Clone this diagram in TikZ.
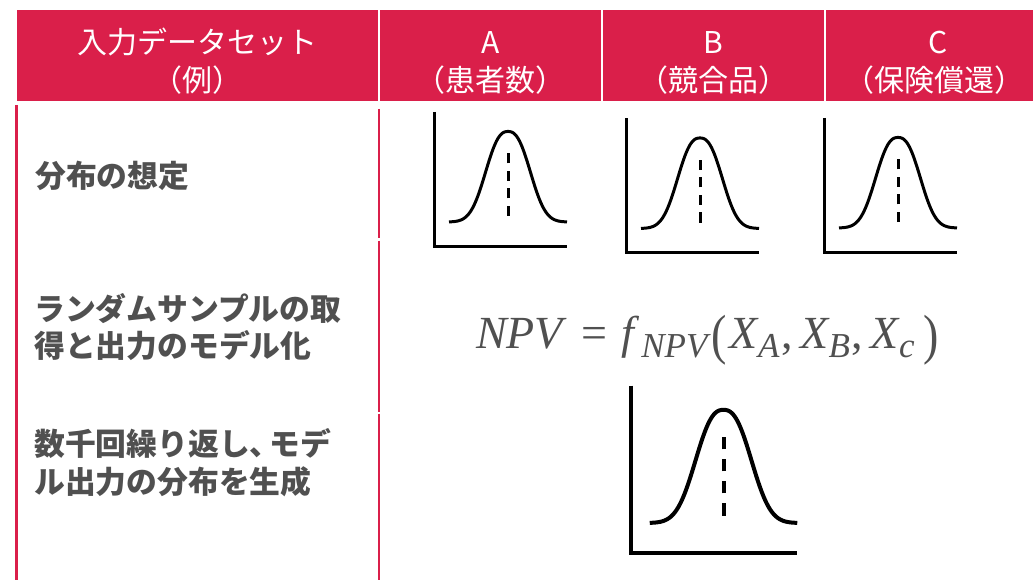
\documentclass[tikz,border=0pt]{standalone}
\usepackage{fontspec}
\newfontfamily\jp{Noto Sans CJK JP}
\newfontfamily\lib{Liberation Serif}
\definecolor{crim}{RGB}{218,31,74}
\definecolor{txtgray}{RGB}{80,80,80}
\tikzset{
  hdrcell/.style={fill=crim, draw=none, inner sep=0pt, outer sep=0pt, anchor=north west},
  hdrtxt/.style={text=white, font=\jp\fontsize{30}{36}\selectfont, anchor=base, inner sep=0pt},
  lbltxt/.style={text=txtgray, font=\jp\bfseries\fontsize{30.8}{36}\selectfont, anchor=base west, inner sep=0pt},
  redline/.style={draw=crim, line width=2.6pt},
}
\newcommand{\bellchart}[6]{%
  \begin{scope}[shift={(#1,#2)}, yscale=-1, scale=#3]
    \draw[line width=#4, line join=miter] (0,134) -- (0,0) -- (133,0);
    \draw[line width=#4] plot[domain=15:133, samples=100, smooth] (\x,{24+90.5*exp(-((abs(\x-74)+0.001)/27.6)^2.5)});
    \draw[line width=#4, dash pattern=on #5 off #6] (74,30) -- (74,93);
  \end{scope}}
\newcommand{\sbs}[1]{\raisebox{-9pt}{\fontsize{35}{40}\selectfont\itshape #1}}
\newcommand{\tpar}[1]{\raisebox{-5.5pt}{\scalebox{1}[1.2]{#1}}}
\begin{document}
\begin{tikzpicture}[x=1pt, y=-1pt]
  \useasboundingbox (0,0) rectangle (1033,580);
  \fill[white] (0,0) rectangle (1033,580);
  % header cells
  \node[hdrcell, minimum width=360.4pt, minimum height=91pt] (c1) at (17.3,10) {};
  \node[hdrcell, minimum width=220.2pt, minimum height=91pt] (c2) at (380.3,10) {};
  \node[hdrcell, minimum width=220.5pt, minimum height=91pt] (c3) at (603,10) {};
  \node[hdrcell, minimum width=220pt, minimum height=91pt] (c4) at (826,10) {};
  % header texts
  \node[hdrtxt] (h1a) at (197.5,54) {入力データセット};
  \node[hdrtxt] (h1b) at (197.5,92) {（例）};
  \node[hdrtxt] (h2a) at (490.4,54) {A};
  \node[hdrtxt] (h2b) at (490.4,92) {（患者数）};
  \node[hdrtxt] (h3a) at (713.3,54) {B};
  \node[hdrtxt] (h3b) at (713.3,92) {（競合品）};
  \node[hdrtxt] (h4a) at (938,54) {C};
  \node[hdrtxt] (h4b) at (934,92) {（保険償還）};
  % red rules
  \draw[redline] (16.5,105) -- (16.5,580);
  \draw[redline] (379,109) -- (379,237.5);
  \draw[redline] (379,240.5) -- (379,411.5);
  \draw[redline] (379,413.5) -- (379,580);
  % row labels
  \node[lbltxt] (l1) at (35,188) {分布の想定};
  \node[lbltxt] (l2a) at (34,320.5) {ランダムサンプルの取};
  \node[lbltxt] (l2b) at (34,357.5) {得と出力のモデル化};
  \node[lbltxt] (l3a) at (34,455.5) {数千回繰り返し、\kern-0.35em モデ};
  \node[lbltxt] (l3b) at (34,493) {ル出力の分布を生成};
  % formula
  \node[anchor=base, text=txtgray, inner sep=0pt, font=\lib\fontsize{46}{54}\selectfont] (f) at (707.5,348)
    {\textit{NPV}\hspace{14.4pt}=\hspace{14pt}\textit{f}\kern1.5pt\sbs{NPV}\kern4pt\tpar{(}\kern2.8pt\textit{X}\kern-1pt\sbs{A}\kern2pt,\kern7pt\textit{X}\kern-1pt\sbs{B}\kern2pt,\kern7pt\textit{X}\kern-1pt\sbs{c}\kern9pt\tpar{)}};
  % charts
  \bellchart{434}{246}{1}{3pt}{10pt}{7.5pt}
  \bellchart{626}{252.5}{1}{3pt}{10pt}{7.5pt}
  \bellchart{824}{252}{1}{3pt}{10pt}{7.5pt}
  \bellchart{631}{553}{1.25}{4pt}{12.5pt}{9.58pt}
\end{tikzpicture}
\end{document}
